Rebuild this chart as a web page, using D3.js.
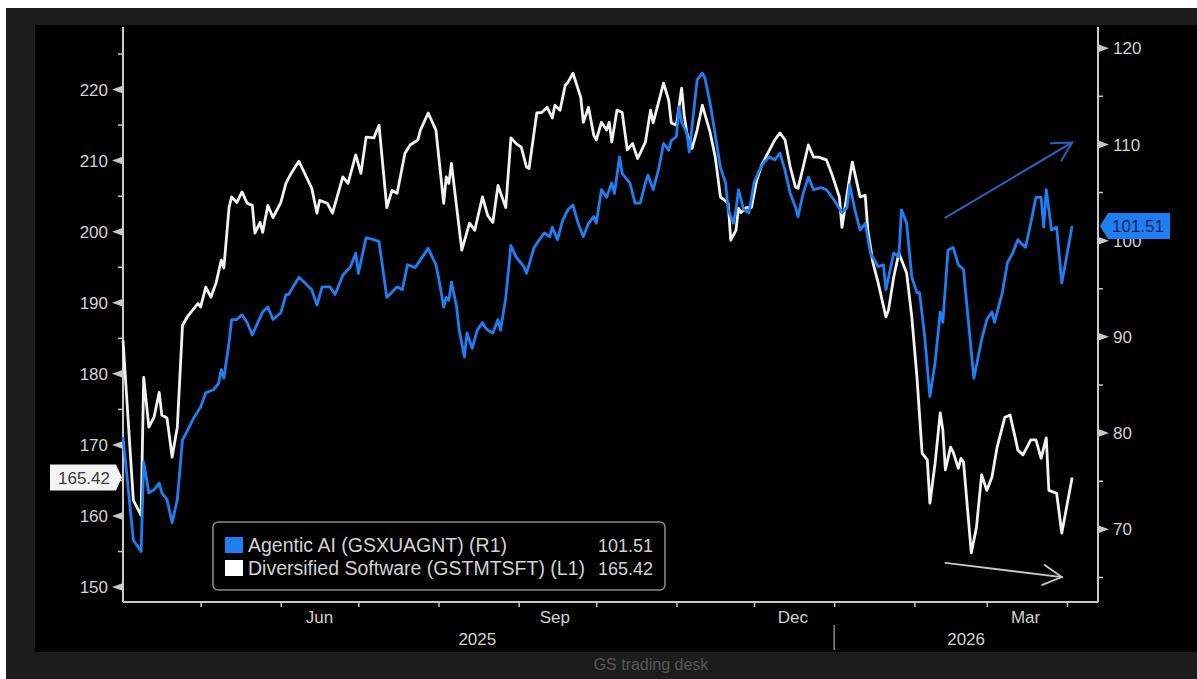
<!DOCTYPE html>
<html>
<head>
<meta charset="utf-8">
<script src="https://cdn.jsdelivr.net/npm/d3@7/dist/d3.min.js"></script>
<style>
  html, body { margin: 0; padding: 0; background: #ffffff; }
  svg { display: block; }
  text { font-family: "Liberation Sans", Arial, sans-serif; }
</style>
</head>
<body>
<svg id="chart" width="1197" height="679"></svg>
<script>
// ---------------- DATA ----------------
const swName = "Diversified Software (GSTMTSFT) (L1)";
const aiName = "Agentic AI (GSXUAGNT) (R1)";
const swLast = 165.42;
const aiLast = 101.51;

const swDates = [
"2025-04-01","2025-04-05","2025-04-08","2025-04-09","2025-04-11","2025-04-13","2025-04-15","2025-04-16","2025-04-18","2025-04-20",
"2025-04-22","2025-04-24","2025-04-26","2025-04-30","2025-05-01","2025-05-03","2025-05-05","2025-05-07","2025-05-09","2025-05-10",
"2025-05-12","2025-05-13","2025-05-15","2025-05-17","2025-05-19","2025-05-21","2025-05-22","2025-05-24","2025-05-25","2025-05-27",
"2025-05-29","2025-06-01","2025-06-03","2025-06-05","2025-06-08","2025-06-10","2025-06-13","2025-06-15","2025-06-16","2025-06-19",
"2025-06-21","2025-06-25","2025-06-27","2025-06-30","2025-07-02","2025-07-04","2025-07-07","2025-07-09","2025-07-12","2025-07-14",
"2025-07-16","2025-07-19","2025-07-21","2025-07-24","2025-07-25","2025-07-28","2025-07-31","2025-08-03","2025-08-04","2025-08-05",
"2025-08-06","2025-08-10","2025-08-13","2025-08-15","2025-08-18","2025-08-20","2025-08-22","2025-08-24","2025-08-27","2025-08-29",
"2025-08-31","2025-09-02","2025-09-04","2025-09-05","2025-09-08","2025-09-10","2025-09-12","2025-09-14","2025-09-15","2025-09-17",
"2025-09-19","2025-09-20","2025-09-22","2025-09-25","2025-09-26","2025-09-28","2025-09-30","2025-10-01","2025-10-03","2025-10-05",
"2025-10-06","2025-10-07","2025-10-09","2025-10-11","2025-10-13","2025-10-15","2025-10-17","2025-10-20","2025-10-22","2025-10-23",
"2025-10-25","2025-10-27","2025-10-29","2025-10-30","2025-11-01","2025-11-03","2025-11-04","2025-11-05","2025-11-07","2025-11-09",
"2025-11-11","2025-11-14","2025-11-16","2025-11-18","2025-11-21","2025-11-22","2025-11-24","2025-11-25","2025-11-26","2025-11-28",
"2025-11-30","2025-12-02","2025-12-04","2025-12-07","2025-12-09","2025-12-11","2025-12-13","2025-12-15","2025-12-17","2025-12-18",
"2025-12-20","2025-12-22","2025-12-24","2025-12-26","2025-12-29","2025-12-31","2026-01-03","2026-01-04","2026-01-07","2026-01-08",
"2026-01-11","2026-01-13","2026-01-14","2026-01-16","2026-01-18","2026-01-21","2026-01-22","2026-01-24","2026-01-26","2026-01-29",
"2026-01-31","2026-02-02","2026-02-04","2026-02-06","2026-02-07","2026-02-09","2026-02-11","2026-02-12","2026-02-13","2026-02-15",
"2026-02-16","2026-02-18","2026-02-19","2026-02-20","2026-02-23","2026-02-25","2026-02-27","2026-03-01","2026-03-03","2026-03-05",
"2026-03-08","2026-03-10","2026-03-12","2026-03-13","2026-03-15","2026-03-18","2026-03-20","2026-03-22","2026-03-24","2026-03-25",
"2026-03-28","2026-03-30","2026-04-03"];
const swValues = [
184.7,162.2,160.1,179.5,172.5,173.9,177.4,174.2,173.8,168.3,
172.5,186.8,188.1,189.9,189.4,192.2,190.8,192.8,196.0,194.9,
203.4,204.9,204.1,205.6,204.0,203.7,199.8,201.3,199.9,203.7,
202.0,204.1,206.8,208.2,209.9,208.4,206.1,202.6,204.4,204.0,
202.6,207.7,206.8,210.8,208.2,213.3,213.2,215.0,203.4,205.8,
205.4,211.0,212.2,212.9,214.3,216.7,214.3,204.0,207.7,206.8,
209.6,197.4,201.2,200.2,204.9,202.3,201.3,206.5,203.4,213.2,
212.4,211.9,209.1,208.9,216.7,216.8,217.5,216.0,217.8,217.1,
220.6,221.0,222.3,218.9,215.4,217.5,213.6,212.9,215.4,214.3,
215.4,212.6,217.1,216.8,211.5,212.4,210.3,212.6,217.1,215.3,
218.1,220.9,218.5,215.3,215.0,220.2,216.4,213.9,211.7,214.3,
217.8,214.0,210.5,204.9,204.0,198.8,200.2,203.3,202.7,203.4,
203.4,207.2,209.4,211.5,212.9,213.9,212.9,209.1,206.3,206.1,
209.1,212.2,210.5,210.5,210.1,208.2,204.9,200.6,207.7,209.8,
204.9,205.1,200.2,195.6,192.8,188.0,189.0,193.6,197.0,194.2,
188.0,179.5,168.8,167.9,161.8,167.4,174.5,172.1,166.5,169.7,
169.0,166.7,168.1,167.6,154.8,158.4,165.8,163.6,165.5,169.7,
173.9,174.2,171.0,169.3,168.6,170.7,170.7,168.1,171.0,163.6,
163.2,157.6,165.42];

const aiDates = [
"2025-04-01","2025-04-05","2025-04-08","2025-04-09","2025-04-11","2025-04-13","2025-04-15","2025-04-16","2025-04-18","2025-04-20",
"2025-04-22","2025-04-24","2025-04-26","2025-04-28","2025-05-01","2025-05-03","2025-05-06","2025-05-08","2025-05-09","2025-05-10",
"2025-05-12","2025-05-13","2025-05-15","2025-05-17","2025-05-19","2025-05-21","2025-05-23","2025-05-25","2025-05-27","2025-05-29",
"2025-06-01","2025-06-03","2025-06-04","2025-06-08","2025-06-10","2025-06-13","2025-06-15","2025-06-17","2025-06-20","2025-06-22",
"2025-06-25","2025-06-28","2025-06-30","2025-07-01","2025-07-04","2025-07-07","2025-07-09","2025-07-12","2025-07-16","2025-07-18",
"2025-07-20","2025-07-23","2025-07-25","2025-07-28","2025-07-31","2025-08-01","2025-08-03","2025-08-04","2025-08-05","2025-08-06",
"2025-08-08","2025-08-09","2025-08-11","2025-08-12","2025-08-14","2025-08-16","2025-08-18","2025-08-19","2025-08-20","2025-08-22",
"2025-08-24","2025-08-25","2025-08-27","2025-08-29","2025-08-31","2025-09-03","2025-09-04","2025-09-07","2025-09-09","2025-09-11",
"2025-09-13","2025-09-14","2025-09-16","2025-09-18","2025-09-20","2025-09-22","2025-09-24","2025-09-26","2025-09-28","2025-09-30",
"2025-10-01","2025-10-03","2025-10-05","2025-10-07","2025-10-08","2025-10-10","2025-10-11","2025-10-13","2025-10-14","2025-10-16",
"2025-10-18","2025-10-20","2025-10-21","2025-10-23","2025-10-25","2025-10-27","2025-10-29","2025-10-30","2025-11-01","2025-11-02",
"2025-11-03","2025-11-05","2025-11-06","2025-11-07","2025-11-09","2025-11-11","2025-11-12","2025-11-14","2025-11-16","2025-11-18",
"2025-11-20","2025-11-21","2025-11-23","2025-11-24","2025-11-25","2025-11-27","2025-11-29","2025-12-01","2025-12-03","2025-12-05",
"2025-12-07","2025-12-09","2025-12-11","2025-12-13","2025-12-15","2025-12-17","2025-12-18","2025-12-20","2025-12-22","2025-12-24",
"2025-12-27","2025-12-29","2026-01-01","2026-01-04","2026-01-06","2026-01-07","2026-01-09","2026-01-11","2026-01-13","2026-01-15",
"2026-01-18","2026-01-20","2026-01-21","2026-01-24","2026-01-26","2026-01-27","2026-01-29","2026-01-31","2026-02-02","2026-02-03",
"2026-02-05","2026-02-07","2026-02-09","2026-02-11","2026-02-12","2026-02-14","2026-02-16","2026-02-18","2026-02-20","2026-02-21",
"2026-02-24","2026-02-27","2026-03-01","2026-03-03","2026-03-04","2026-03-07","2026-03-09","2026-03-11","2026-03-13","2026-03-14",
"2026-03-16","2026-03-18","2026-03-20","2026-03-22","2026-03-23","2026-03-24","2026-03-26","2026-03-28","2026-03-30","2026-04-03"];
const aiValues = [
79.6,68.9,67.7,77.0,73.8,74.1,74.8,73.8,73.1,70.7,
73.1,79.3,80.3,81.4,82.7,84.2,84.5,85.2,86.6,85.7,
89.4,91.8,91.8,92.3,91.5,90.2,91.4,92.6,93.1,91.8,
92.5,94.4,94.4,96.2,95.7,94.9,93.3,95.2,95.2,94.4,
96.4,97.3,98.7,96.6,100.3,100.1,99.9,94.1,95.2,94.9,
97.5,97.2,98.0,99.2,97.5,96.2,93.1,94.1,93.8,95.7,
93.1,90.7,87.9,90.4,88.8,90.7,91.5,91.0,90.7,90.4,
91.8,90.7,94.1,99.5,98.3,97.3,96.6,99.3,100.1,100.8,
100.4,101.4,100.1,102.1,103.2,103.7,101.8,100.4,101.8,102.5,
101.8,105.3,104.5,106.0,104.9,108.7,107.0,106.3,106.0,103.9,
103.9,106.0,106.8,105.3,107.3,110.1,109.4,110.4,110.8,113.9,
112.3,111.2,109.2,111.8,116.7,117.4,116.9,114.3,111.0,107.6,
106.0,103.2,101.8,103.2,105.3,103.2,102.9,106.0,107.3,108.2,
108.7,108.4,109.1,107.3,104.9,103.5,102.5,104.9,106.6,105.3,
105.5,105.3,104.2,102.9,103.5,105.8,103.2,101.1,101.8,98.7,
97.3,97.5,94.9,98.7,98.3,103.2,101.8,96.2,94.6,94.6,
90.0,83.8,87.3,92.6,91.5,99.0,99.3,97.5,97.0,94.1,
85.7,89.7,91.8,92.6,91.5,94.6,97.7,98.7,100.1,99.8,
99.3,101.8,104.5,104.5,101.4,105.3,101.1,101.4,95.6,101.51];

const leftTicks = [150, 160, 170, 180, 190, 200, 210, 220];
const leftMinor = [155, 165, 175, 185, 195, 205, 215, 225];
const rightTicks = [70, 80, 90, 100, 110, 120];
const rightMinor = [65, 75, 85, 95, 105, 115];
const monthLabels = [["2025-06-16","Jun"],["2025-09-15","Sep"],["2025-12-16","Dec"],["2026-03-16","Mar"]];
const yearLabels = [["2025-08-16","2025"],["2026-02-21","2026"]];
const yearBreak = "2026-01-01";
const xStart = "2025-04-01", xEnd = "2026-04-13";
const leftDomain = [147.9, 228.8];
const rightDomain = [62.45, 122.2];
// trend annotations: [date, value] endpoints
const aiTrend = [["2026-02-13", 102.4], ["2026-04-03", 110.2]];   // on right axis
const swTrend = [["2026-02-13", 153.4], ["2026-03-30", 151.4]];   // on left axis
const footer = "GS trading desk";

// ---------------- CHART ----------------
const parse = d3.utcParse("%Y-%m-%d");
const sw = swDates.map((d, i) => ({ date: parse(d), v: swValues[i] }));
const ai = aiDates.map((d, i) => ({ date: parse(d), v: aiValues[i] }));

const W = 1197, H = 679;
const P = { left: 123, right: 1098, top: 27, bottom: 602 };
const BLUE = "#1f7ff2";
const AXIS = "#c8c8c8";
const TXT = "#d2d2d2";

const svg = d3.select("#chart");
svg.append("rect").attr("x", 0).attr("y", 0).attr("width", W).attr("height", H).attr("fill", "#ffffff");
svg.append("rect").attr("x", 6).attr("y", 8).attr("width", W - 6).attr("height", H - 8).attr("fill", "#1c1c1c");
svg.append("rect").attr("x", 35).attr("y", 25).attr("width", W - 35).attr("height", 627).attr("fill", "#000000");

const x = d3.scaleUtc().domain([parse(xStart), parse(xEnd)]).range([P.left, P.right]);
const yL = d3.scaleLinear().domain(leftDomain).range([P.bottom, P.top]);
const yR = d3.scaleLinear().domain(rightDomain).range([P.bottom, P.top]);

// axes lines
const axisG = svg.append("g");
axisG.append("line").attr("x1", P.left).attr("x2", P.left).attr("y1", P.top).attr("y2", P.bottom).attr("stroke", AXIS).attr("stroke-width", 2);
axisG.append("line").attr("x1", P.right).attr("x2", P.right).attr("y1", P.top).attr("y2", P.bottom).attr("stroke", AXIS).attr("stroke-width", 2);

// bottom axis with d3.axisBottom (month boundary ticks)
const monthTicks = d3.utcMonth.range(parse("2025-05-01"), parse("2026-04-02"));
const xAxis = d3.axisBottom(x).tickValues(monthTicks).tickSize(5).tickFormat("");
const gx = svg.append("g").attr("transform", `translate(0,${P.bottom})`).call(xAxis);
gx.select(".domain").attr("stroke", AXIS).attr("stroke-width", 2).attr("d", `M${P.left},0H${P.right}`);
gx.selectAll(".tick line").attr("stroke", AXIS).attr("stroke-width", 1.5);

svg.append("g").selectAll("text").data(monthLabels).join("text")
  .attr("x", d => x(parse(d[0]))).attr("y", 623)
  .attr("text-anchor", "middle").attr("fill", TXT).attr("font-size", 17)
  .text(d => d[1]);
svg.append("g").selectAll("text").data(yearLabels).join("text")
  .attr("x", d => x(parse(d[0]))).attr("y", 645)
  .attr("text-anchor", "middle").attr("fill", TXT).attr("font-size", 17)
  .text(d => d[1]);
svg.append("line").attr("x1", x(parse(yearBreak))).attr("x2", x(parse(yearBreak)))
  .attr("y1", 625).attr("y2", 650).attr("stroke", "#8a8a8a").attr("stroke-width", 1.5);

// left ticks
const gl = svg.append("g");
gl.selectAll("path.tri").data(leftTicks).join("path")
  .attr("d", d => `M${P.left},${yL(d) - 4}L${P.left - 11},${yL(d)}L${P.left},${yL(d) + 4}Z`)
  .attr("fill", AXIS);
gl.selectAll("line.minor").data(leftMinor).join("line")
  .attr("x1", P.left - 5).attr("x2", P.left).attr("y1", d => yL(d)).attr("y2", d => yL(d))
  .attr("stroke", AXIS).attr("stroke-width", 1.5);
gl.selectAll("text").data(leftTicks).join("text")
  .attr("x", 108).attr("y", d => yL(d)).attr("dy", "0.36em")
  .attr("text-anchor", "end").attr("fill", TXT).attr("font-size", 17)
  .text(d => d);

// right ticks
const gr = svg.append("g");
gr.selectAll("path.tri").data(rightTicks).join("path")
  .attr("d", d => `M${P.right},${yR(d) - 4}L${P.right + 11},${yR(d)}L${P.right},${yR(d) + 4}Z`)
  .attr("fill", AXIS);
gr.selectAll("line.minor").data(rightMinor).join("line")
  .attr("x1", P.right).attr("x2", P.right + 5).attr("y1", d => yR(d)).attr("y2", d => yR(d))
  .attr("stroke", AXIS).attr("stroke-width", 1.5);
gr.selectAll("text").data(rightTicks).join("text")
  .attr("x", 1113).attr("y", d => yR(d)).attr("dy", "0.36em")
  .attr("text-anchor", "start").attr("fill", TXT).attr("font-size", 17)
  .text(d => d);

// series lines
const lineL = d3.line().x(d => x(d.date)).y(d => yL(d.v));
const lineR = d3.line().x(d => x(d.date)).y(d => yR(d.v));
svg.append("path").datum(sw).attr("d", lineL).attr("fill", "none")
  .attr("stroke", "#f2f2f2").attr("stroke-width", 2.8).attr("stroke-linejoin", "round");
svg.append("path").datum(ai).attr("d", lineR).attr("fill", "none")
  .attr("stroke", BLUE).attr("stroke-width", 2.8).attr("stroke-linejoin", "round");

// trend arrows
function arrow(pts, ys, color, w) {
  const x1 = x(parse(pts[0][0])), y1 = ys(pts[0][1]);
  const x2 = x(parse(pts[1][0])), y2 = ys(pts[1][1]);
  const ang = Math.atan2(y1 - y2, x1 - x2);
  const L = 21, a = 0.5;
  const g = svg.append("g").attr("stroke", color).attr("stroke-width", w).attr("fill", "none").attr("stroke-linecap", "round");
  g.append("line").attr("x1", x1).attr("y1", y1).attr("x2", x2).attr("y2", y2);
  g.append("path").attr("d",
    `M${x2 + L * Math.cos(ang + a)},${y2 + L * Math.sin(ang + a)}L${x2},${y2}L${x2 + L * Math.cos(ang - a)},${y2 + L * Math.sin(ang - a)}`);
}
arrow(aiTrend, yR, "#2a62bd", 2);
arrow(swTrend, yL, "#c8c8c8", 1.8);

// last-value tags
const ySW = yL(swLast);
svg.append("path")
  .attr("d", `M50,${ySW - 13}H116L122,${ySW}L116,${ySW + 13}H50Z`)
  .attr("fill", "#f4f4f4");
svg.append("text").attr("x", 84).attr("y", ySW).attr("dy", "0.36em")
  .attr("text-anchor", "middle").attr("fill", "#3a3a3a").attr("font-size", 17)
  .text(swLast.toFixed(2));

const yAI = yR(aiLast);
svg.append("path")
  .attr("d", `M${P.right + 2},${yAI}L${P.right + 10},${yAI - 13}H1170V${yAI + 13}H${P.right + 10}Z`)
  .attr("fill", BLUE);
svg.append("text").attr("x", 1138).attr("y", yAI).attr("dy", "0.36em")
  .attr("text-anchor", "middle").attr("fill", "#0d1f5c").attr("font-size", 17)
  .text(aiLast.toFixed(2));

// legend
const legendItems = [
  { name: aiName, value: aiLast, color: BLUE },
  { name: swName, value: swLast, color: "#ffffff" }
];
const lg = svg.append("g");
lg.append("rect").attr("x", 213).attr("y", 522).attr("width", 452).attr("height", 68)
  .attr("rx", 5).attr("fill", "#000").attr("stroke", "#8c8c8c").attr("stroke-width", 1.5);
const li = lg.selectAll("g.item").data(legendItems).join("g")
  .attr("transform", (d, i) => `translate(0,${i * 23})`);
li.append("rect").attr("x", 225).attr("y", 537).attr("width", 18).attr("height", 16).attr("fill", d => d.color);
li.append("text").attr("x", 248).attr("y", 552).attr("fill", TXT).attr("font-size", 19.5)
  .text(d => d.name);
li.append("text").attr("x", 653).attr("y", 552).attr("text-anchor", "end").attr("fill", TXT).attr("font-size", 18)
  .text(d => d.value.toFixed(2));

// footer
svg.append("text").attr("x", 651).attr("y", 670).attr("text-anchor", "middle")
  .attr("fill", "#575757").attr("font-size", 16).text(footer);
</script>
</body>
</html>
